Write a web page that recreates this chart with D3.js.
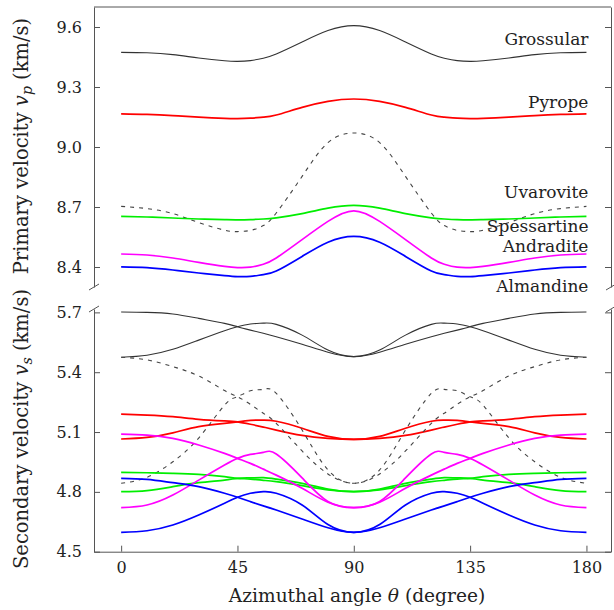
<!DOCTYPE html>
<html>
<head>
<meta charset="utf-8">
<script src="https://cdn.jsdelivr.net/npm/d3@7"></script>
<style>
  body { margin: 0; background: #fff; }
  svg text { font-family: "DejaVu Serif", "Liberation Serif", serif; fill: #222; }
  .axis path, .axis line { stroke: #555; }
  .axis text { font-size: 16px; font-family: "DejaVu Serif", "Liberation Serif", serif; }
</style>
</head>
<body>
<svg id="chart" width="614" height="610"></svg>
<script>
// azimuthal angle samples (degree)
var theta = [0,10,20,30,40,45,50,55,60,70,80,90,100,110,120,125,130,135,140,150,160,170,180];

// primary velocity vp (km/s)
var groP = [9.473,9.471,9.462,9.445,9.431,9.428,9.432,9.444,9.465,9.525,9.582,9.607,9.582,9.525,9.465,9.444,9.432,9.428,9.431,9.445,9.462,9.471,9.473];
var pyrP = [9.166,9.163,9.157,9.149,9.143,9.142,9.144,9.149,9.160,9.198,9.228,9.240,9.228,9.198,9.160,9.149,9.144,9.142,9.143,9.149,9.157,9.163,9.166];
var uvaP = [8.703,8.692,8.667,8.622,8.584,8.577,8.583,8.607,8.670,8.853,9.022,9.070,9.022,8.853,8.670,8.607,8.583,8.577,8.584,8.622,8.667,8.692,8.703];
var speP = [8.653,8.650,8.645,8.640,8.637,8.636,8.637,8.640,8.646,8.667,8.694,8.708,8.694,8.667,8.646,8.640,8.637,8.636,8.637,8.640,8.645,8.650,8.653];
var andP = [8.465,8.460,8.445,8.423,8.403,8.397,8.399,8.414,8.445,8.537,8.628,8.681,8.628,8.537,8.445,8.414,8.399,8.397,8.403,8.423,8.445,8.460,8.465];
var almP = [8.401,8.397,8.385,8.370,8.357,8.352,8.353,8.362,8.380,8.453,8.524,8.553,8.524,8.453,8.380,8.362,8.353,8.352,8.357,8.370,8.385,8.397,8.401];

// secondary velocity vs (km/s), two branches per garnet
var groS1 = [5.702,5.700,5.692,5.670,5.645,5.628,5.611,5.595,5.578,5.540,5.500,5.478,5.500,5.540,5.578,5.595,5.611,5.628,5.645,5.670,5.692,5.700,5.702];
var groS2 = [5.475,5.485,5.515,5.561,5.608,5.628,5.642,5.646,5.640,5.586,5.511,5.478,5.511,5.586,5.640,5.646,5.642,5.628,5.608,5.561,5.515,5.485,5.475];
var uvaS1 = [5.475,5.462,5.428,5.381,5.308,5.277,5.239,5.194,5.144,5.005,4.890,4.843,4.890,5.005,5.144,5.194,5.239,5.277,5.308,5.381,5.428,5.462,5.475];
var uvaS2 = [4.843,4.873,4.951,5.070,5.235,5.277,5.307,5.314,5.294,5.110,4.910,4.843,4.910,5.110,5.294,5.314,5.307,5.277,5.235,5.070,4.951,4.873,4.843];
var pyrS1 = [5.190,5.185,5.177,5.164,5.156,5.151,5.139,5.125,5.110,5.083,5.068,5.063,5.068,5.083,5.110,5.125,5.139,5.151,5.156,5.164,5.177,5.185,5.190];
var pyrS2 = [5.065,5.073,5.096,5.127,5.143,5.151,5.159,5.160,5.154,5.119,5.078,5.063,5.078,5.119,5.154,5.160,5.159,5.151,5.143,5.127,5.096,5.073,5.065];
var andS1 = [5.090,5.085,5.068,5.035,4.993,4.968,4.943,4.914,4.884,4.818,4.748,4.721,4.748,4.818,4.884,4.914,4.943,4.968,4.993,5.035,5.068,5.085,5.090];
var andS2 = [4.721,4.734,4.784,4.859,4.935,4.968,4.988,4.998,4.990,4.870,4.752,4.721,4.752,4.870,4.990,4.998,4.988,4.968,4.935,4.859,4.784,4.734,4.721];
var speS1 = [4.898,4.896,4.893,4.888,4.876,4.868,4.864,4.858,4.851,4.831,4.810,4.801,4.810,4.831,4.851,4.858,4.864,4.868,4.876,4.888,4.893,4.896,4.898];
var speS2 = [4.801,4.806,4.826,4.846,4.859,4.868,4.870,4.871,4.864,4.843,4.814,4.801,4.814,4.843,4.864,4.871,4.870,4.868,4.859,4.846,4.826,4.806,4.801];
var almS1 = [4.868,4.863,4.846,4.826,4.793,4.773,4.751,4.730,4.709,4.664,4.620,4.597,4.620,4.664,4.709,4.730,4.751,4.773,4.793,4.826,4.846,4.863,4.868];
var almS2 = [4.597,4.605,4.634,4.684,4.743,4.773,4.793,4.801,4.793,4.734,4.636,4.597,4.636,4.734,4.793,4.801,4.793,4.773,4.743,4.684,4.634,4.605,4.597];

var xTicks = [0, 45, 90, 135, 180];
var vpTicks = [8.4, 8.7, 9.0, 9.3, 9.6];
var vsTicks = [4.5, 4.8, 5.1, 5.4, 5.7];

var names = ["Grossular", "Pyrope", "Uvarovite", "Spessartine", "Andradite", "Almandine"];
var labelVp = [9.51, 9.195, 8.745, 8.575, 8.4765, 8.2765];

var svg = d3.select("#chart");

var x = d3.scaleLinear().domain([-10.5, 189.5]).range([94, 611]);
var yTop = d3.scaleLinear().domain([8.3, 9.7]).range([287, 7]);
var yBot = d3.scaleLinear().domain([4.5, 5.717]).range([551.7, 309]);

var styles = {
    Grossular:   {color: "#333", width: 1.1, dash: null},
    Pyrope:      {color: "#ff0000", width: 1.7, dash: null},
    Uvarovite:   {color: "#444", width: 1.1, dash: "4,5"},
    Spessartine: {color: "#00ee00", width: 1.7, dash: null},
    Andradite:   {color: "#ff00ff", width: 1.7, dash: null},
    Almandine:   {color: "#0000ff", width: 1.7, dash: null}
};

var vpData = [groP, pyrP, uvaP, speP, andP, almP];
var vsData = [[groS1, groS2], [pyrS1, pyrS2], [uvaS1, uvaS2], [speS1, speS2], [andS1, andS2], [almS1, almS2]];

function lineFor(yScale) {
    return d3.line()
        .x(function(d, i) { return x(theta[i]); })
        .y(function(d) { return yScale(d); })
        .curve(d3.curveNatural);
}

// curves, top panel
var lineTop = lineFor(yTop);
svg.append("g").selectAll("path")
    .data(vpData).enter().append("path")
    .attr("d", function(d) { return lineTop(d); })
    .attr("fill", "none")
    .attr("stroke", function(d, i) { return styles[names[i]].color; })
    .attr("stroke-width", function(d, i) { return styles[names[i]].width; })
    .attr("stroke-dasharray", function(d, i) { return styles[names[i]].dash; });

// curves, bottom panel
var lineBot = lineFor(yBot);
var flat = [];
vsData.forEach(function(pair, i) {
    pair.forEach(function(v) { flat.push({name: names[i], values: v}); });
});
svg.append("g").selectAll("path")
    .data(flat).enter().append("path")
    .attr("d", function(d) { return lineBot(d.values); })
    .attr("fill", "none")
    .attr("stroke", function(d) { return styles[d.name].color; })
    .attr("stroke-width", function(d) { return styles[d.name].width; })
    .attr("stroke-dasharray", function(d) { return styles[d.name].dash; });

// axes
svg.append("g").attr("class", "axis")
    .attr("transform", "translate(" + x.range()[0] + ",0)")
    .call(d3.axisLeft(yTop).tickValues(vpTicks).tickFormat(d3.format(".1f"))
        .tickSize(-6).tickSizeOuter(0).tickPadding(12));
svg.append("g").attr("class", "axis")
    .attr("transform", "translate(" + x.range()[1] + ",0)")
    .call(d3.axisRight(yTop).tickValues(vpTicks).tickFormat("").tickSize(-6).tickSizeOuter(0));
svg.append("g").attr("class", "axis")
    .attr("transform", "translate(" + x.range()[0] + ",0)")
    .call(d3.axisLeft(yBot).tickValues(vsTicks).tickFormat(d3.format(".1f"))
        .tickSize(-6).tickSizeOuter(0).tickPadding(12));
svg.append("g").attr("class", "axis")
    .attr("transform", "translate(" + x.range()[1] + ",0)")
    .call(d3.axisRight(yBot).tickValues(vsTicks).tickFormat("").tickSize(-6).tickSizeOuter(0));
svg.append("g").attr("class", "axis")
    .attr("transform", "translate(0," + yBot.range()[0] + ")")
    .call(d3.axisBottom(x).tickValues(xTicks).tickSize(-6).tickSizeOuter(0).tickPadding(10));

// top frame line
svg.append("line")
    .attr("x1", x.range()[0]).attr("x2", x.range()[1])
    .attr("y1", yTop.range()[1]).attr("y2", yTop.range()[1])
    .attr("stroke", "#555");

// break marks
var breaks = [];
[x.range()[0], x.range()[1]].forEach(function(bx) {
    breaks.push([bx, yTop.range()[0]]);
    breaks.push([bx, yBot.range()[1]]);
});
svg.append("g").selectAll("line")
    .data(breaks).enter().append("line")
    .attr("x1", function(d) { return d[0] - 5; })
    .attr("y1", function(d) { return d[1] + 3; })
    .attr("x2", function(d) { return d[0] + 5; })
    .attr("y2", function(d) { return d[1] - 3; })
    .attr("stroke", "#555");

// curve names
svg.append("g").selectAll("text")
    .data(names).enter().append("text")
    .attr("x", x(180) + 2)
    .attr("y", function(d, i) { return yTop(labelVp[i]); })
    .attr("text-anchor", "end")
    .style("font-size", "17px")
    .text(function(d) { return d; });

// axis titles
var xt = svg.append("text")
    .attr("x", 357).attr("y", 602)
    .attr("text-anchor", "middle")
    .style("font-size", "18.6px");
xt.append("tspan").text("Azimuthal angle ");
xt.append("tspan").style("font-style", "italic").text("θ");
xt.append("tspan").text(" (degree)");

function yTitle(cy, label, sub) {
    var t = svg.append("text")
        .attr("transform", "translate(28," + cy + ") rotate(-90)")
        .attr("text-anchor", "middle")
        .style("font-size", "19.5px");
    t.append("tspan").text(label + " ");
    t.append("tspan").style("font-style", "italic").text("v");
    t.append("tspan").attr("dy", 4).style("font-style", "italic").style("font-size", "14px").text(sub);
    t.append("tspan").attr("dy", -4).text(" (km/s)");
}
yTitle(146, "Primary velocity", "p");
yTitle(429, "Secondary velocity", "s");
</script>
</body>
</html>
